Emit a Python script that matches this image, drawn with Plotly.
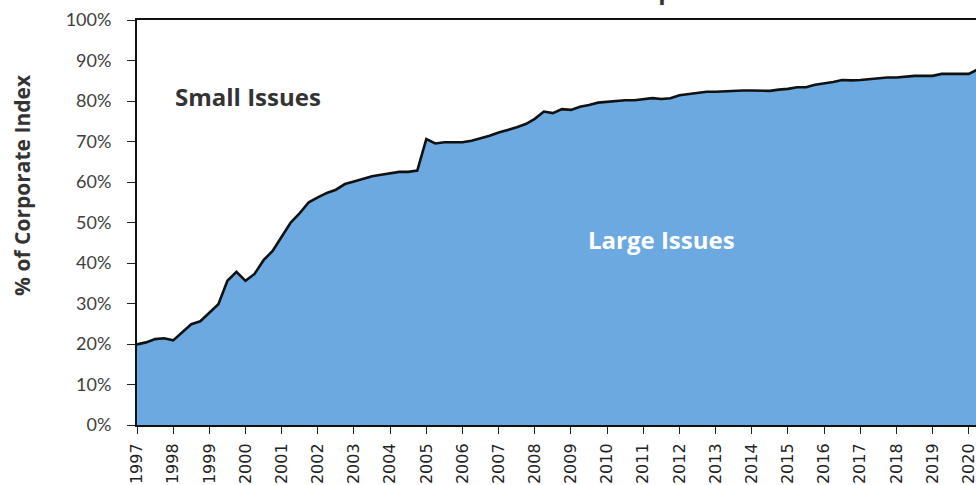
import plotly.graph_objects as go

# Quarterly share of large issues in the corporate index (%), starting 1997 Q1
start_year = 1997
large_share = [
    19.9, 20.4, 21.2, 21.4,   # 1997
    20.9, 23.0, 24.9, 25.6,   # 1998
    27.6, 29.8, 35.6, 37.8,   # 1999
    35.6, 37.3, 40.7, 43.0,   # 2000
    46.5, 50.0, 52.3, 55.0,   # 2001
    56.2, 57.3, 58.1, 59.5,   # 2002
    60.1, 60.8, 61.4, 61.8,   # 2003
    62.1, 62.5, 62.5, 62.8,   # 2004
    70.6, 69.5, 69.8, 69.8,   # 2005
    69.8, 70.2, 70.8, 71.4,   # 2006
    72.2, 72.8, 73.5, 74.3,   # 2007
    75.6, 77.4, 77.0, 78.0,   # 2008
    77.8, 78.6, 79.0, 79.6,   # 2009
    79.8, 79.9, 80.2, 80.2,   # 2010
    80.5, 80.7, 80.5, 80.7,   # 2011
    81.4, 81.7, 82.0, 82.3,   # 2012
    82.3, 82.4, 82.6, 82.6,   # 2013
    82.6, 82.6, 82.5, 82.8,   # 2014
    83.0, 83.4, 83.4, 84.0,   # 2015
    84.3, 84.7, 85.2, 85.1,   # 2016
    85.2, 85.4, 85.6, 85.8,   # 2017
    85.8, 86.0, 86.2, 86.2,   # 2018
    86.2, 86.7, 86.7, 86.7,   # 2019
    86.7, 87.8,               # 2020
]
year_ticks = list(range(1997, 2021))
year_labels = [str(y) for y in year_ticks]
y_ticks = list(range(0, 101, 10))
y_labels = [f"{v}%" for v in y_ticks]

x_vals = [start_year + i / 4 for i in range(len(large_share))]

fig = go.Figure()
fig.add_trace(go.Scatter(
    x=x_vals, y=large_share, mode="lines",
    fill="tozeroy", fillcolor="#6CA9E1",
    line=dict(color="#111111", width=2.6),
    hoverinfo="skip", showlegend=False,
))

fig.update_layout(
    width=976, height=485,
    margin=dict(l=137, r=0, t=20, b=60, autoexpand=False),
    paper_bgcolor="white", plot_bgcolor="white",
    showlegend=False,
    xaxis=dict(
        range=[1997, 2020.2], tickvals=year_ticks, ticktext=year_labels,
        tickangle=-90, ticks="outside", ticklen=7, tickwidth=1.3, tickcolor="#222",
        ticklabeloverflow="allow", ticklabelstandoff=3, automargin=False,
        showline=True, linecolor="#111", linewidth=2, mirror=True,
        showgrid=False, zeroline=False,
        tickfont=dict(family="DejaVu Sans", size=16, color="#222"),
    ),
    yaxis=dict(
        range=[0, 100], tickvals=y_ticks, ticktext=y_labels,
        ticks="outside", ticklen=8, tickwidth=1.3, tickcolor="#222",
        ticklabelstandoff=12, automargin=False,
        showline=True, linecolor="#111", linewidth=2,
        showgrid=False, zeroline=False,
        tickfont=dict(family="Lato", size=18, color="#404040"),
    ),
    annotations=[
        dict(text="<b>Small Issues</b>", x=2000.07, y=81, xref="x", yref="y",
             showarrow=False, font=dict(family="Open Sans", size=24, color="#333333"),
             xanchor="center", yanchor="middle"),
        dict(text="<b>Large Issues</b>", x=2011.49, y=45.7, xref="x", yref="y",
             showarrow=False, font=dict(family="Open Sans", size=24, color="white"),
             xanchor="center", yanchor="middle"),
        dict(text="<b>% of Corporate Index</b>", x=-0.137, y=0.593, xref="paper", yref="paper",
             textangle=-90, showarrow=False,
             font=dict(family="Open Sans", size=21, color="#333333"),
             xanchor="center", yanchor="middle"),
        dict(text="<b>Share of Small Issues in the Corporate Index</b>", x=0.49, y=1.0,
             xref="paper", yref="paper", yshift=12, showarrow=False,
             font=dict(family="Open Sans", size=24, color="#333333"),
             xanchor="center", yanchor="bottom"),
    ],
)

fig.write_html(
    "out.html",
    config={"displayModeBar": False},
    post_script="document.body.style.margin='0';document.body.style.overflow='hidden';",
)
